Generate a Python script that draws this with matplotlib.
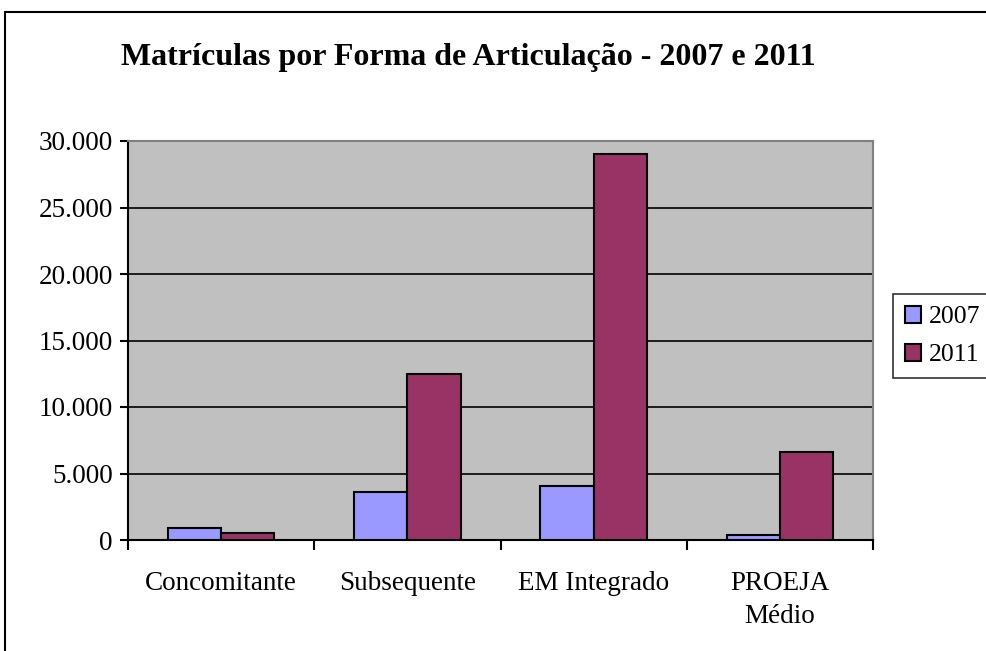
import numpy as np
import matplotlib.pyplot as plt
from matplotlib.patches import Rectangle
from matplotlib.ticker import FuncFormatter

# dados
categorias = ['Concomitante', 'Subsequente', 'EM Integrado', 'PROEJA\nMédio']
anos = ['2007', '2011']
mat_2007 = [880, 3600, 4060, 400]
mat_2011 = [560, 12500, 29000, 6640]
cores = ['#9999FF', '#993366']

plt.rcParams['font.family'] = ['Liberation Serif', 'DejaVu Serif']

fig = plt.figure(figsize=(9.86, 6.51), dpi=100)

# borda da área do gráfico (cortada à direita e embaixo)
fig.patches.append(Rectangle((5/986, -0.2), 1.2, 1 - 12/651 + 0.2,
                             transform=fig.transFigure, fill=False,
                             edgecolor='black', linewidth=1.5))

ax = fig.add_axes([128/986, 1 - 540/651, 745/986, 399/651])
ax.set_facecolor('#C0C0C0')

x = np.arange(len(categorias)) + 0.5
w = 1 / 3.5
ax.bar(x - w/2, mat_2007, w, color=cores[0], edgecolor='black', linewidth=1.5,
       label=anos[0], zorder=3)
ax.bar(x + w/2, mat_2011, w, color=cores[1], edgecolor='black', linewidth=1.5,
       label=anos[1], zorder=3)

ax.set_xlim(0, len(categorias))
ax.set_ylim(0, 30000)
ax.set_yticks(np.arange(0, 30001, 5000))
ax.yaxis.set_major_formatter(FuncFormatter(lambda v, p: f'{int(v):,}'.replace(',', '.')))
ax.yaxis.grid(True, color='black', linewidth=1.2, zorder=1)

ax.set_xticks(np.arange(0, len(categorias) + 1))
ax.set_xticklabels([])
ax.set_xticks(x, minor=True)
ax.set_xticklabels(categorias, minor=True, fontsize=19.5)
for t in ax.get_xticklabels(minor=True):
    t.set_linespacing(1.45)
ax.tick_params(axis='x', which='minor', length=0, pad=22)
ax.tick_params(axis='x', which='major', length=7, width=1.5, direction='out')
ax.tick_params(axis='y', length=6, width=1.5, labelsize=19.5, pad=5)

for s in ['top', 'right']:
    ax.spines[s].set_color('#808080')
    ax.spines[s].set_linewidth(1.5)
for s in ['left', 'bottom']:
    ax.spines[s].set_color('black')
    ax.spines[s].set_linewidth(1.5)

fig.text(468/986, 1 - 57/651, 'Matrículas por Forma de Articulação - 2007 e 2011',
         ha='center', va='center', fontsize=23, fontweight='bold')

leg = ax.legend(loc='upper left', bbox_to_anchor=(893/986, 1 - 294/651),
                bbox_transform=fig.transFigure, fontsize=18.5, frameon=True,
                fancybox=False, edgecolor='black', handlelength=0.65,
                handleheight=0.65, handletextpad=0.3, borderaxespad=0,
                labelspacing=0.6, borderpad=0.45)
leg.get_frame().set_linewidth(1.2)

fig.savefig('out.png', dpi=100)
